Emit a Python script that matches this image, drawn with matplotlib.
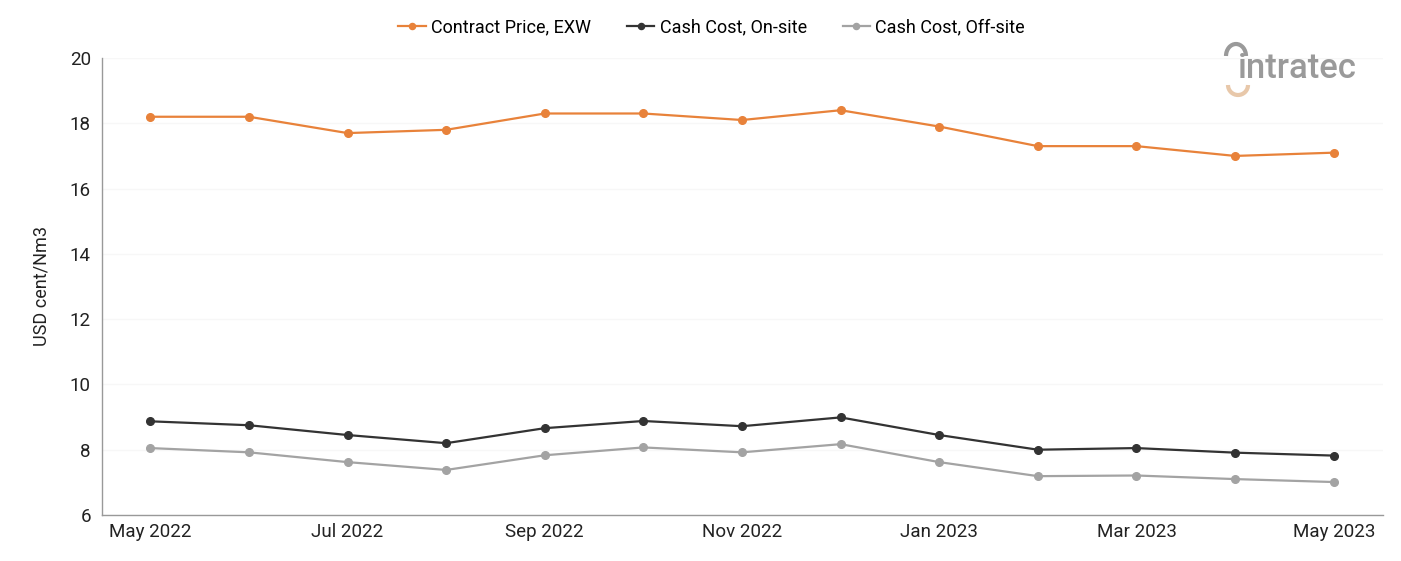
import matplotlib
matplotlib.use("Agg")
import matplotlib.pyplot as plt
from matplotlib.patches import Arc

plt.rcParams['font.family'] = ['Roboto', 'DejaVu Sans']

months = ['May 2022', 'Jun 2022', 'Jul 2022', 'Aug 2022', 'Sep 2022', 'Oct 2022',
          'Nov 2022', 'Dec 2022', 'Jan 2023', 'Feb 2023', 'Mar 2023', 'Apr 2023', 'May 2023']
contract_price = [18.2, 18.2, 17.7, 17.8, 18.3, 18.3, 18.1, 18.4, 17.9, 17.3, 17.3, 17.0, 17.1]
cash_onsite = [8.87, 8.75, 8.45, 8.20, 8.66, 8.88, 8.72, 8.99, 8.45, 8.00, 8.05, 7.91, 7.82]
cash_offsite = [8.05, 7.92, 7.62, 7.38, 7.83, 8.07, 7.92, 8.17, 7.62, 7.19, 7.21, 7.10, 7.01]
yticks = [6, 8, 10, 12, 14, 16, 18, 20]

x = list(range(len(months)))

fig = plt.figure(figsize=(14.01, 5.61), dpi=100)
ax = fig.add_axes([102/1401, 1 - 515/561, (1383-102)/1401, (515-58)/561])

ax.plot(x, contract_price, color='#E8823A', lw=1.6, marker='o', ms=5.5, label='Contract Price, EXW')
ax.plot(x, cash_onsite, color='#333333', lw=1.6, marker='o', ms=5.5, label='Cash Cost, On-site')
ax.plot(x, cash_offsite, color='#A3A3A3', lw=1.6, marker='o', ms=5.5, label='Cash Cost, Off-site')

ax.set_ylim(6, 20)
ax.set_yticks(yticks)
ax.set_xlim(-0.49, 12.5)
ax.set_xticks(x[::2])
ax.set_xticklabels(months[::2])
ax.tick_params(axis='both', length=0, labelsize=13.5, colors='#222222')
ax.tick_params(axis='x', pad=6)
ax.tick_params(axis='y', pad=8)
ax.grid(axis='y', color='#F7F7F7', lw=1)
ax.set_axisbelow(True)
for s in ['top', 'right']:
    ax.spines[s].set_visible(False)
for s in ['left', 'bottom']:
    ax.spines[s].set_color('#999999')
    ax.spines[s].set_linewidth(1)
ax.set_ylabel('USD cent/Nm3', fontsize=13, color='#222222', labelpad=14)

leg = fig.legend(loc='center', bbox_to_anchor=(0.508, 1 - 27/561), ncol=3, frameon=False,
                 fontsize=13, handlelength=1.5, columnspacing=2.0, handletextpad=0.3,
                 markerscale=0.8)

# logo
fig.text(1238/1401, 1 - 68/561, 'intratec', fontsize=25, color='#9A9A9A', va='center', ha='left',
         fontweight='medium')
fig.patches.append(Arc((1236/1401, 1 - 56/561), 20/1401, 24/561, theta1=0, theta2=180,
                       transform=fig.transFigure, color='#9A9A9A', lw=3))
fig.patches.append(Arc((1238/1401, 1 - 85/561), 20/1401, 20/561, theta1=180, theta2=360,
                       transform=fig.transFigure, color='#E8C8AA', lw=3))

fig.savefig('out.png', dpi=100)
